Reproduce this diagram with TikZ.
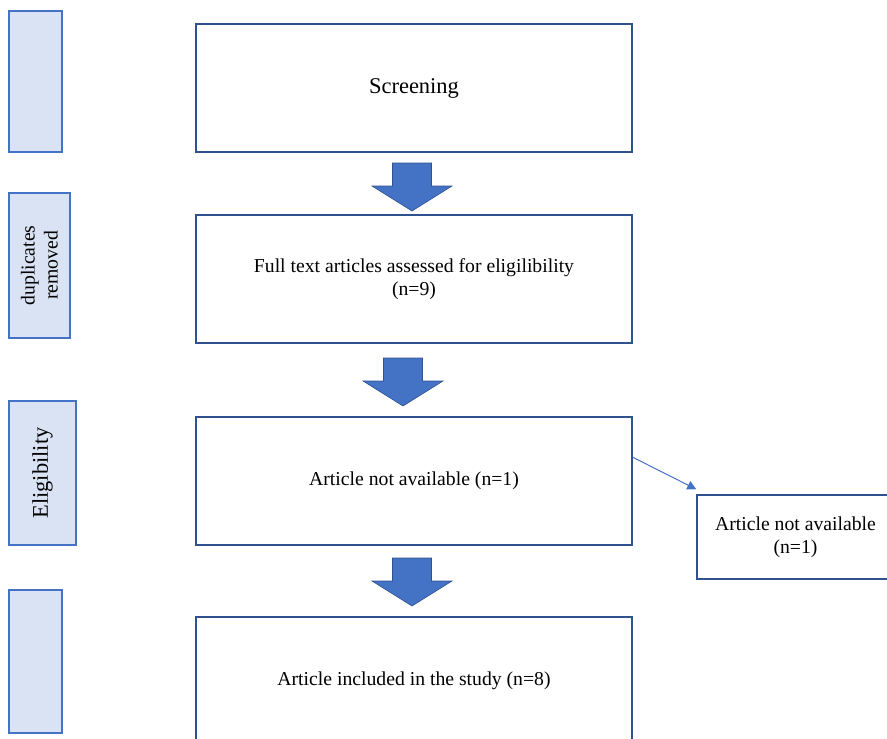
\documentclass[tikz,border=0pt]{standalone}
\usepackage{fontspec}
\setmainfont{Liberation Serif}
\usetikzlibrary{calc,positioning,arrows.meta}

\definecolor{officeblue}{HTML}{4472C4}
\definecolor{officedark}{HTML}{2F528F}
\definecolor{officelight}{HTML}{DAE3F3}

\tikzset{
  stagebox/.style={draw=officedark,line width=1.5pt,fill=white,minimum width=436pt,minimum height=128pt,align=center,inner sep=0pt,font=\fontsize{19.7}{23}\selectfont},
  phasebox/.style={draw=officeblue,line width=1.3pt,fill=officelight,rotate=90,align=center,inner sep=0pt,font=\fontsize{19.7}{23}\selectfont},
  blockarrow/.style={draw=officedark,line width=0.6pt,fill=officeblue},
  link/.style={draw=officeblue,line width=1pt,-{Triangle[length=9pt,width=9pt]}}
}

\begin{document}
\begin{tikzpicture}[x=1pt,y={(0,-1pt)}]
\useasboundingbox (0,0) rectangle (887,739);
% phases on the left
\node[phasebox,minimum width=141pt,minimum height=53pt] (phase1) at (35.5,81.5) {};
\node[phasebox,minimum width=145pt,minimum height=61pt] (phase2) at (39.5,265.5) {duplicates\\removed};
\node[phasebox,minimum width=144pt,minimum height=67pt,font=\fontsize{22.4}{26}\selectfont] (phase3) at (42.5,473) {Eligibility};
\node[phasebox,minimum width=143pt,minimum height=53pt] (phase4) at (35.5,661.5) {};
% main flow
\node[stagebox,font=\fontsize{22.5}{26}\selectfont] (screen) at (414,88) {Screening};
\node[stagebox] (fulltext) at (414,279) {Full text articles assessed for eligilibility\\(n=9)};
\node[stagebox] (notavail) at (414,481) {Article not available (n=1)};
\node[stagebox] (included) at (414,681) {Article included in the study (n=8)};
\node[draw=officedark,line width=1.5pt,minimum width=197pt,minimum height=84pt,align=center,inner sep=0pt,font=\fontsize{19.7}{23}\selectfont] (excluded) at (795.5,537) {Article not available\\(n=1)};
% block arrows
\foreach \x/\y in {412/163,403/358,412/558}
  \draw[blockarrow] (\x-19.5,\y) -- ++(39,0) -- ++(0,23) -- ++(20.5,0) -- (\x,\y+48) -- (\x-40,\y+23) -- ++(20.5,0) -- cycle;
\draw[link] ($(notavail.north east)+(0,41)$) -- ($(excluded.north west)+(0,-5)$);
\end{tikzpicture}
\end{document}
